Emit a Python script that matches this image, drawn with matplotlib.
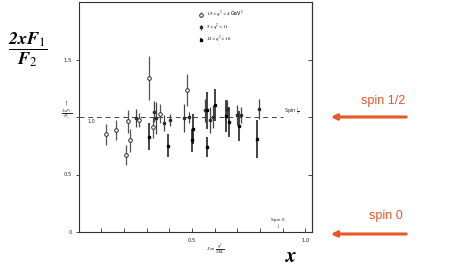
import matplotlib.pyplot as plt

plt.rcParams['mathtext.fontset'] = 'stix'

# 1.5 < q^2 < 4 GeV^2 (open circles)
x_low = [0.121, 0.164, 0.209, 0.217, 0.225, 0.268, 0.310, 0.327, 0.360, 0.478]
y_low = [0.85, 0.887, 0.67, 0.965, 0.80, 0.975, 1.34, 0.91, 1.03, 1.235]
e_low = [0.09, 0.09, 0.09, 0.10, 0.10, 0.06, 0.19, 0.09, 0.08, 0.14]

# 5 < q^2 < 11
x_mid = [0.253, 0.333, 0.341, 0.377, 0.403, 0.466, 0.488, 0.557, 0.582, 0.594,
         0.656, 0.697, 0.719, 0.795]
y_mid = [0.99, 1.046, 0.994, 0.945, 0.974, 0.99, 0.997, 1.06, 0.974, 1.003,
         1.067, 1.017, 1.017, 1.07]
e_mid = [0.08, 0.09, 0.14, 0.07, 0.05, 0.12, 0.05, 0.10, 0.11, 0.10,
         0.08, 0.09, 0.07, 0.09]

# 12 < q^2 < 16
x_high = [0.310, 0.396, 0.506, 0.499, 0.566, 0.569, 0.600, 0.650, 0.664, 0.708, 0.789]
y_high = [0.83, 0.748, 0.896, 0.80, 0.739, 1.06, 1.104, 1.009, 0.96, 0.92, 0.806]
e_high = [0.12, 0.10, 0.13, 0.10, 0.09, 0.16, 0.14, 0.14, 0.13, 0.13, 0.165]

legend_labels = [r'$1.5 < q^2 < 4$ GeV$^2$', r'$5 < q^2 < 11$', r'$12 < q^2 < 16$']

orange = '#E8562A'
ink = '#2a2a2a'

fig = plt.figure(figsize=(4.5, 2.75), dpi=100)
ax = fig.add_axes([78.5 / 450, 43 / 275, 233.5 / 450, 230 / 275])

ax.errorbar(x_low, y_low, yerr=e_low, fmt='o', ms=2.6, mfc='white', mec=ink,
            mew=0.7, ecolor='#555555', elinewidth=0.9, capsize=0, label=legend_labels[0])
ax.errorbar(x_mid, y_mid, yerr=e_mid, fmt='o', ms=1.6, color=ink,
            ecolor='#444444', elinewidth=0.9, capsize=0, label=legend_labels[1])
ax.errorbar(x_high, y_high, yerr=e_high, fmt='s', ms=1.6, color='black',
            ecolor='#111111', elinewidth=1.1, capsize=0, label=legend_labels[2])

ax.plot([0, 0.9], [1.0, 1.0], ls=(0, (5, 4)), color='#444444', lw=0.7)
ax.text(0.905, 1.0, r'Spin $\frac{1}{2}$', fontsize=3.5, va='bottom', color=ink)
ax.text(0.04, 0.985, '1.0', fontsize=3.5, va='top', color=ink)
ax.text(0.88, 0.1, 'Spin 0', fontsize=3.2, ha='center', color=ink)
ax.text(0.88, 0.04, r'$\downarrow$', fontsize=3.5, ha='center', color=ink)

ax.set_xlim(0, 1.03)
ax.set_ylim(0, 2.0)
ax.set_xticks([0.1 * i for i in range(1, 11)])
ax.set_xticklabels(['', '', '', '', '0.5', '', '', '', '', '1.0'])
ax.set_yticks([0, 0.5, 1.0, 1.5])
ax.set_yticklabels(['0', '0.5', '', '1.5'])
ax.tick_params(axis='x', direction='in', length=3, width=0.6, labelsize=3.8,
               colors=ink, pad=4)
ax.tick_params(axis='y', direction='out', length=2.5, width=0.6, labelsize=3.8,
               colors=ink, pad=2)
for s in ax.spines.values():
    s.set_linewidth(0.8)
    s.set_color('#333333')

# inward ticks on the right frame
right = ax.secondary_yaxis('right')
right.set_yticks([0.5, 1.0, 1.5])
right.tick_params(direction='in', length=3, width=0.6, labelright=False, colors=ink)
right.spines['right'].set_linewidth(0.8)
right.spines['right'].set_color('#333333')

ax.legend(loc='upper left', bbox_to_anchor=(0.5, 0.985), fontsize=3.5, frameon=False,
          handlelength=0.6, handletextpad=0.8, labelspacing=0.5)

# axis captions from the scan
fig.text(67 / 450, 1 - 104 / 275, r'$\uparrow$', fontsize=4, ha='center', va='center', color=ink)
fig.text(67 / 450, 1 - 114 / 275, r'$\frac{2xF_1}{F_2}$', fontsize=5, ha='center', va='center', color=ink)
fig.text(215 / 450, 1 - 249 / 275, r'$x = \frac{q^2}{2M\nu}$', fontsize=4.5, ha='center', va='center', color=ink)

# big slide labels
fig.text(28 / 450, 1 - 50 / 275, r'$\dfrac{\mathbfit{2xF}_{1}}{\mathbfit{F}_{2}}$', fontsize=13,
         ha='center', va='center')
fig.text(291 / 450, 1 - 256 / 275, r'$\mathbfit{x}$', fontsize=15, ha='center', va='center')

fig.text(405 / 450, 1 - 101 / 275, 'spin 1/2', fontsize=9, ha='right', va='center',
         color=orange, family='Liberation Sans')
fig.text(403 / 450, 1 - 216 / 275, 'spin 0', fontsize=9, ha='right', va='center',
         color=orange, family='Liberation Sans')
for yy in [117, 234]:
    ax.annotate('', xy=(328 / 450, 1 - yy / 275), xytext=(409 / 450, 1 - yy / 275),
                xycoords='figure fraction', textcoords='figure fraction',
                annotation_clip=False,
                arrowprops=dict(arrowstyle='-|>', color=orange, lw=2.2, mutation_scale=8))

fig.savefig('out.png', dpi=100)
